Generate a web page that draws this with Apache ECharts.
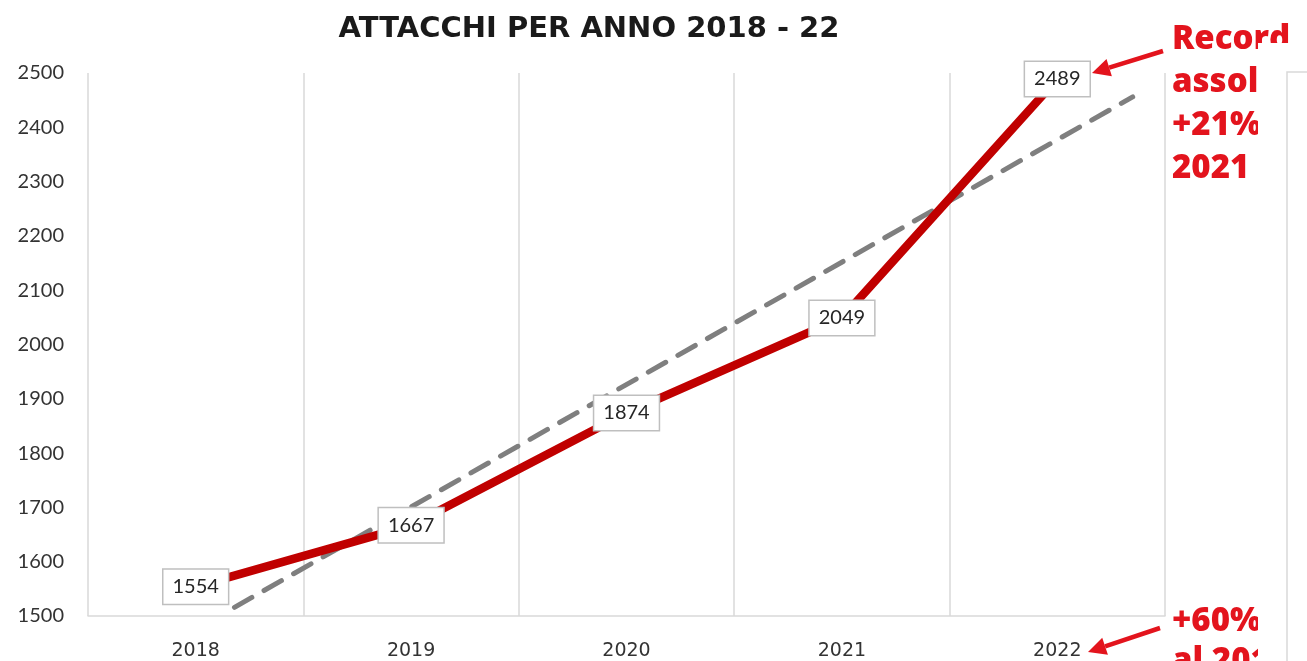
<!DOCTYPE html>
<html>
<head>
<meta charset="utf-8">
<script src="https://cdn.jsdelivr.net/npm/echarts@6/dist/echarts.min.js"></script>
<style>
html,body{margin:0;padding:0;background:#fff;}
#chart{width:1307px;height:661px;}
</style>
</head>
<body>
<div id="chart"></div>
<script>
const titleText = 'ATTACCHI PER ANNO 2018 - 22';
const years = ['2018', '2019', '2020', '2021', '2022'];
const attacks = [1554, 1667, 1874, 2049, 2489];
// dashed trend line, endpoints (category index, value)
const trendX = [0.18, 4.35];
const trendY = [1516, 2456];
const yTicks = [1500, 1600, 1700, 1800, 1900, 2000, 2100, 2200, 2300, 2400, 2500];
const noteTop = ['Record', 'assoluto', '+21%', '2021'];
const noteBottom = ['+60%', 'al 2018'];

const red = '#c00000';
const noteRed = '#e3141d';
const chart = echarts.init(document.getElementById('chart'), null, {renderer: 'canvas'});

const trendData = trendX.map((x, i) => [x, trendY[i]]);

const noteFont = '800 33px "Open Sans", "DejaVu Sans", sans-serif';
const noteEls = [];
noteTop.forEach((t, i) => {
  noteEls.push({type: 'text', left: 1172, top: 23 + i * 43, z: 10,
    style: {text: t, font: noteFont, fill: noteRed}});
});
noteBottom.forEach((t, i) => {
  noteEls.push({type: 'text', left: 1172, top: 605 + i * 40, z: 10,
    style: {text: t, font: noteFont, fill: noteRed}});
});

function arrow(x1, y1, x2, y2) {
  const ang = Math.atan2(y2 - y1, x2 - x1);
  const L = 18, W = 9;
  const bx = x2 - L * Math.cos(ang), by = y2 - L * Math.sin(ang);
  const px = -Math.sin(ang) * W, py = Math.cos(ang) * W;
  return [
    {type: 'line', z: 10, shape: {x1: x1, y1: y1, x2: bx, y2: by},
      style: {stroke: noteRed, lineWidth: 4.5}},
    {type: 'polygon', z: 10, shape: {points: [[x2, y2], [bx + px, by + py], [bx - px, by - py]]},
      style: {fill: noteRed}}
  ];
}

const graphics = [].concat(
  [{type: 'text', x: 589, y: 29, z: 10,
    style: {text: titleText, font: 'bold 29px "DejaVu Sans", sans-serif', fill: '#1a1a1a',
      textAlign: 'center', textVerticalAlign: 'middle'}}],
  noteEls,
  arrow(1163, 51, 1092, 73),
  arrow(1160, 628, 1088, 652),
  [
    {type: 'rect', z: 20, shape: {x: 1258, y: 43, width: 49, height: 618}, style: {fill: '#ffffff'}},
    {type: 'polyline', z: 21, shape: {points: [[1287, 661], [1287, 72], [1307, 72]]},
      style: {stroke: '#d9d9d9', lineWidth: 1.5, fill: null}}
  ]
);

chart.setOption({
  animation: false,
  backgroundColor: '#ffffff',
  grid: {left: 88, right: 142, top: 73, bottom: 45},
  xAxis: [
    {
      type: 'category', data: years, boundaryGap: true,
      axisLine: {show: true, lineStyle: {color: '#d9d9d9', width: 1.5}},
      axisTick: {show: false},
      splitLine: {show: true, lineStyle: {color: '#d9d9d9', width: 1.5}},
      axisLabel: {margin: 26, fontSize: 19, color: '#333333', fontFamily: '"DejaVu Sans", sans-serif'}
    },
    {
      type: 'value', min: -0.5, max: 4.5, show: false
    }
  ],
  yAxis: {
    type: 'value', min: 1500, max: 2500, interval: 100,
    axisLine: {show: false}, axisTick: {show: false}, splitLine: {show: false},
    axisLabel: {margin: 24, fontSize: 20, color: '#333333', fontFamily: 'Lato, sans-serif',
      formatter: v => yTicks.includes(v) ? String(v) : ''}
  },
  series: [
    {
      type: 'line', xAxisIndex: 1, data: trendData, symbol: 'none', z: 2,
      lineStyle: {color: '#7f7f7f', width: 5, type: [20, 14], cap: 'round'},
      silent: true
    },
    {
      type: 'line', xAxisIndex: 0, data: attacks, z: 3,
      symbol: 'circle', symbolSize: 1,
      itemStyle: {color: red},
      lineStyle: {color: red, width: 8.5},
      label: {
        show: true, position: 'inside', color: '#262626', fontSize: 20,
        fontFamily: 'Lato, sans-serif',
        backgroundColor: '#ffffff', borderColor: '#bfbfbf', borderWidth: 1.5,
        padding: [8, 9, 6, 9]
      }
    }
  ],
  graphic: graphics
});
</script>
</body>
</html>
